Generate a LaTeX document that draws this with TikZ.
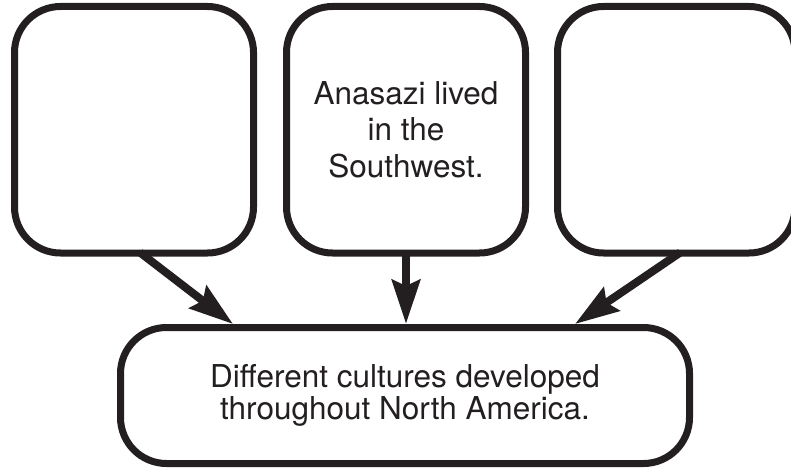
\documentclass[tikz,border=0pt]{standalone}
\usepackage{fontspec}
\setmainfont{TeX Gyre Heros}
\usetikzlibrary{positioning,arrows.meta}
\definecolor{ink}{HTML}{231F20}

\begin{document}
\begin{tikzpicture}[x=1pt, y=1pt,
        cbox/.style={rectangle, draw=ink, line width=7pt, rounded corners=46pt, text=ink, align=center},
        flow/.style={draw=ink, line width=8pt, -{Stealth[length=44pt, width=28pt, inset=6pt]}}]
        \useasboundingbox (0,0) rectangle (791,-468);
        %% Top row
        \node[cbox, minimum width=239pt, minimum height=246.5pt, font=\fontsize{31.5}{36.5}\selectfont] (mid) at (406,-129.75) {Anasazi lived\\in the\\Southwest.};
        \node[cbox, minimum width=239pt, minimum height=246.5pt, left=26pt of mid] (left) {};
        \node[cbox, minimum width=237.5pt, minimum height=246.5pt, right=25pt of mid] (right) {};

        %% Main idea
        \node[cbox, minimum width=569pt, minimum height=136pt, below=67.5pt of mid, xshift=-1pt, font=\fontsize{31.5}{31.5}\selectfont] (main) {Different cultures developed\\throughout North America.};

        %% Arrows into the main idea
        \draw[flow] ([xshift=6pt, yshift=4pt]left.south) -- ([xshift=-172pt]main.north);
        \draw[flow] ([yshift=4pt]mid.south) -- (mid.south |- main.north);
        \draw[flow] ([xshift=4pt, yshift=4pt]right.south) -- ([xshift=170pt]main.north);
\end{tikzpicture}
\end{document}
